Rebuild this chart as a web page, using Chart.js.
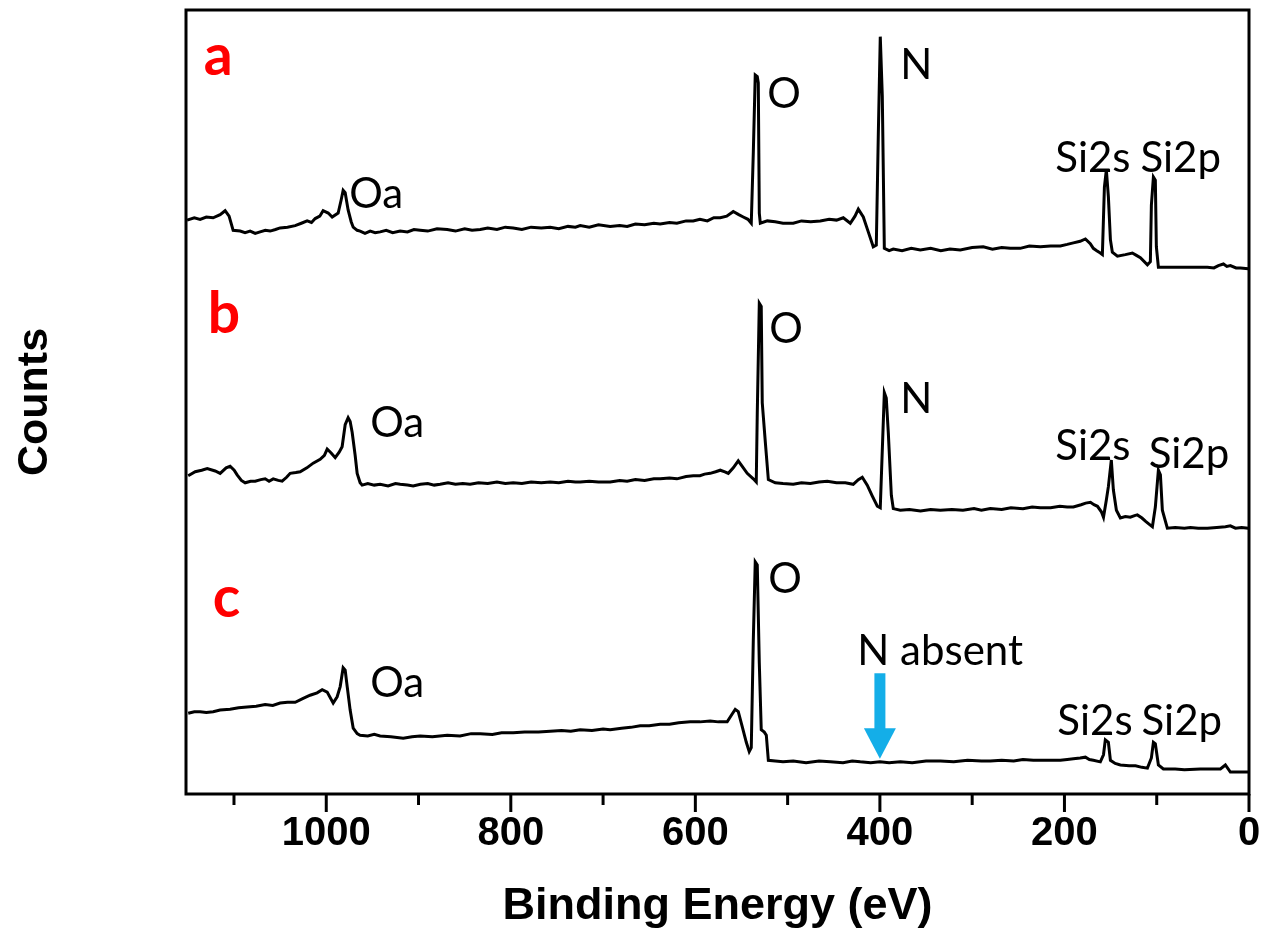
<!DOCTYPE html>
<html>
<head>
<meta charset="utf-8">
<script src="https://cdn.jsdelivr.net/npm/chart.js@4.4.1/dist/chart.umd.min.js"></script>
<style>
  html, body { margin: 0; padding: 0; background: #fff; }
  canvas { display: block; }
</style>
</head>
<body>
<canvas id="c" width="1264" height="935"></canvas>
<script>
// ---- Data (binding energy in eV, counts in arbitrary offset units) ----
const energyA = [1150.8,1143,1136.7,1130,1122.6,1115,1109.6,1105.3,1100.9,1093.3,1088,1082.5,1077,1071.7,1066,1060.8,1055,1050,1042,1033.7,1027,1020.7,1016,1012,1007,1003.4,997.9,993.6,987.1,983.8,981.7,979.5,976.3,973,970.8,966.5,963.3,958,952.4,947,941.6,935,928,919.9,912,905,898.2,890,880,868.9,860,850,842,833.1,825,815,806,797.4,788,778,767,757.3,748,738,730,724.8,715,705,692.3,682,673.9,665,655,645,638.1,628,620,610,602.3,595,587,580,573,566,560,558.9,553,548.1,543,539.4,537.2,535.1,532.9,531.8,530.7,529.6,522,513.4,505,493.9,485,475,464.6,455,447,439.7,432.1,427,423.4,418,412.6,407.2,403.9,401.7,399.6,397.4,395.2,390,385.5,376,366,356.2,345,334,324,312.9,300,288,278,268,258.7,248,238,226.1,215,204.4,197,190.3,183,177.3,172,168.7,165,161.1,158.9,156.7,154.6,152.4,150.2,148.1,142.6,134,126.4,122,117.7,110.1,106.9,105.8,103.6,101.5,100.4,98.2,90,80,74.4,60,45.1,38,33.2,27.7,24,20.2,14,9.3,0.7];
const countsA = [732,735,733,736,735,739,744,737,719,718,716,718,715,717,719,718,720,722,723,725,728,731,729,734,737,744,741,736,741,758,770,767,745,730,723,719,718,715,718,716,717,719,716,718,717,720,719,718,721,720,718,721,719,720,722,720,723,722,720,723,722,723,721,724,723,725,723,726,724,725,724,727,726,728,727,729,728,731,731,733,731,735,735,737,742,743,739,736,733,728,818,917,915,907,741,728,731,730,728,728,731,730,731,733,732,735,728,737,746,736,717,698,700,843,966,890,696,693,695,693,696,694,696,693,695,694,697,698,695,697,696,696,699,698,699,699,701,703,705,708,702,696,693,690,688,774,796,762,707,691,686,688,690,687,684,675,679,751,787,783,698,672,672,672,672,672,672,671,674,676,673,674,671,671,670];

const energyB = [1149.6,1142,1135,1129,1120.4,1115,1108.5,1104.2,1099.8,1096.6,1092,1087.9,1082,1077,1071,1066.2,1062,1057.5,1052,1047.8,1043,1039.1,1033,1028.3,1021,1014.2,1006.6,1002,999,994.7,990.3,986,982.8,979.5,976.3,974.1,971.9,968.7,966.5,963.3,961.1,955,948,941.6,933,925,919.9,912,905.8,898,890,883,876.6,868,860,852,844.1,835,825,815,806,797.4,788,778,767,757.3,748,738,730,724.8,715,705,692.3,682,673.9,665,655,645,638.1,628,620,610,602.3,595,590,583.9,578,573,568,564.3,558.9,553.5,549.2,543.8,537.2,534,532.9,530.7,528.6,527.5,524.2,520.9,513.4,505,493.9,485,475.4,466,457,447,437.5,428.9,423.4,419.1,413.7,408.2,402.8,399.6,397.4,395.2,393.1,390.9,387.6,385.5,377.9,368,356,345,334.5,322,310,298,290,280.3,268,258,245,235,226.1,215,205,197,190.3,182,177,171.8,168,164.2,160,157.7,154.6,152.4,149.2,147,143.7,139.4,134,128.6,124,121,116,112.3,108,104.7,101.5,98.2,96,93.9,88.5,80,70,63.5,55,45.1,35,25.6,20.2,14.7,8,0.7];
const countsB = [406,411,413,415,412,409,416,418,413,407,400,397,399,399,401,402,399,402,400,399,404,409,410,411,416,422,427,432,440,435,429,436,443,471,480,475,461,432,409,397,394,396,394,395,393,396,395,394,393,395,396,394,395,397,395,396,395,397,396,398,396,397,396,398,397,398,397,399,398,398,399,398,398,400,399,401,400,402,402,403,402,405,406,406,408,409,411,413,411,409,416,425,418,409,402,398,486,626,622,499,449,401,397,396,395,397,396,398,399,397,397,395,401,404,394,380,367,365,439,512,505,461,381,364,362,363,361,363,362,363,362,364,362,364,363,365,364,366,365,365,367,366,366,369,371,372,369,367,360,353,375,392,426,388,362,352,354,353,355,356,352,348,344,341,366,413,407,362,339,340,339,340,339,339,340,341,342,339,340,339];

const energyC = [1149.6,1143,1136.7,1130,1122.6,1115,1104.2,1095,1085.8,1076,1066.2,1058,1050,1042,1033.7,1025,1017.5,1009.9,1004.4,999,992.5,988.2,984.9,981.7,979.5,977.3,974.1,970.8,966.5,963.3,955,948,941.6,930,916.6,907,898.2,885,868.9,855,843,833.1,820,810,797.4,785,770,757.3,745,735,724.8,712,700,692.3,680,670,659.8,650,638.1,628,618,605.6,595,583.9,575,565.5,560.1,556.8,553.5,549.2,544.8,541.6,539.4,537.2,535.1,532.9,530.7,528.6,525.3,523.1,520.9,513.4,505,493.9,480,466,453.8,440,430,421.3,410,400,390,377.9,365,350,334.5,320,305,290,280.3,268,255,245,233.7,220,204.4,197,190.3,183,177.3,173,168.7,161.1,157.7,155.7,152.4,150.2,145,139.4,130,123,116,110.1,105.8,103.6,101.5,98.2,92.8,80,70,52.7,40,31,25.6,20.2,10,0.7];
const countsC = [103,105,105,104,105,107,108,110,111,112,114,113,116,117,117,122,126,129,133,130,116,124,137,161,158,137,107,84,77,75,74,76,74,73,71,73,74,73,75,74,77,77,76,78,78,79,79,80,81,80,82,81,83,82,84,85,87,87,89,89,91,92,92,93,92,92,102,108,105,86,66,54,59,196,296,292,167,82,79,75,43,42,41,42,40,42,41,40,42,41,40,41,40,41,40,42,42,41,43,42,42,43,42,44,43,43,43,44,45,46,47,44,43,41,50,69,66,43,39,37,36,36,34,33,46,66,64,37,32,32,31,32,32,32,37,28,28,28];

// ---- Axis ticks ----
const tickValues = [0,100,200,300,400,500,600,700,800,900,1000,1100];
const tickLabels = ['0','','200','','400','','600','','800','','1000',''];

// ---- Text annotations (positions in data units) ----
const panelLetters = ['a','b','c'];
const panelLetterE = [1132.7, 1128.4, 1123.0];
const panelLetterV = [917, 588, 226];

const peakTexts = ['Oa','O','N','Si2s','Si2p','Oa','O','N','Si2s','Si2p','Oa','O','N absent','Si2s','Si2p'];
const peakE = [975.2, 522.1, 377.9, 209.9, 117.7, 952.4, 519.9, 377.9, 209.9, 108.7, 952.4, 521.0, 424.5, 207.7, 116.5];
const peakV = [747, 875, 912, 793, 793, 455, 575, 486, 426, 416, 124, 256, 165, 75, 75];

const arrowE = 400;
const arrowTopV = 154, arrowNeckV = 84, arrowTipV = 45;

function pts(xs, ys) { return xs.map((x, i) => ({ x: x, y: ys[i] })); }

const decorPlugin = {
  id: 'decor',
  afterDraw(chart) {
    const { ctx, chartArea: ca, scales: { x, y } } = chart;
    ctx.save();
    ctx.strokeStyle = '#000';
    ctx.lineWidth = 3;
    ctx.strokeRect(ca.left, ca.top, ca.right - ca.left, ca.bottom - ca.top);
    tickValues.forEach((v, i) => {
      const px = x.getPixelForValue(v);
      const len = tickLabels[i] !== '' ? 18 : 11;
      ctx.beginPath();
      ctx.moveTo(px, ca.bottom);
      ctx.lineTo(px, ca.bottom + len);
      ctx.stroke();
    });
    ctx.fillStyle = '#ff0000';
    ctx.font = 'bold 57px Lato, "Open Sans", sans-serif';
    ctx.textAlign = 'left';
    ctx.textBaseline = 'alphabetic';
    panelLetters.forEach((t, i) => {
      ctx.fillText(t, x.getPixelForValue(panelLetterE[i]), y.getPixelForValue(panelLetterV[i]));
    });
    ctx.fillStyle = '#000';
    ctx.font = '42px Lato, "Open Sans", sans-serif';
    peakTexts.forEach((t, i) => {
      ctx.fillText(t, x.getPixelForValue(peakE[i]), y.getPixelForValue(peakV[i]));
    });
    const ax = x.getPixelForValue(arrowE);
    const yTop = y.getPixelForValue(arrowTopV);
    const yNeck = y.getPixelForValue(arrowNeckV);
    const yTip = y.getPixelForValue(arrowTipV);
    ctx.fillStyle = '#14aee8';
    ctx.fillRect(ax - 5.5, yTop, 11, yNeck - yTop + 1);
    ctx.beginPath();
    ctx.moveTo(ax - 16, yNeck);
    ctx.lineTo(ax + 16, yNeck);
    ctx.lineTo(ax, yTip);
    ctx.closePath();
    ctx.fill();
    ctx.restore();
  }
};

const lineStyle = { borderColor: '#000', borderWidth: 3, pointRadius: 0, tension: 0, fill: false };

new Chart(document.getElementById('c'), {
  type: 'line',
  data: {
    datasets: [
      Object.assign({ label: 'a', data: pts(energyA, countsA) }, lineStyle),
      Object.assign({ label: 'b', data: pts(energyB, countsB) }, lineStyle),
      Object.assign({ label: 'c', data: pts(energyC, countsC) }, lineStyle)
    ]
  },
  options: {
    responsive: false,
    animation: false,
    layout: { padding: { top: 10, right: 15, bottom: 0, left: 0 } },
    plugins: { legend: { display: false }, tooltip: { enabled: false } },
    scales: {
      x: {
        type: 'linear',
        min: 0,
        max: 1152,
        reverse: true,
        afterFit(s) { s.height = 141; s.paddingLeft = 0; s.paddingRight = 0; },
        grid: { display: false, drawTicks: false },
        border: { display: false },
        ticks: {
          stepSize: 100,
          includeBounds: false,
          autoSkip: false,
          maxRotation: 0,
          padding: 16,
          color: '#000',
          font: { family: '"Liberation Sans", Arial, sans-serif', weight: 'bold', size: 40 },
          callback: (v) => { const i = tickValues.indexOf(v); return i >= 0 ? tickLabels[i] : ''; }
        },
        title: {
          display: true,
          text: 'Binding Energy (eV)',
          color: '#000',
          font: { family: '"Liberation Sans", Arial, sans-serif', weight: 'bold', size: 45 },
          padding: { top: 0, bottom: 1 }
        }
      },
      y: {
        min: 0,
        max: 1000,
        afterFit(s) { s.width = 186; },
        grid: { display: false, drawTicks: false },
        border: { display: false },
        ticks: { display: false },
        title: {
          display: true,
          text: 'Counts',
          color: '#000',
          font: { family: '"Liberation Sans", Arial, sans-serif', weight: 'bold', size: 43 },
          padding: { top: 9, bottom: 0 }
        }
      }
    }
  },
  plugins: [decorPlugin]
});
</script>
</body>
</html>
